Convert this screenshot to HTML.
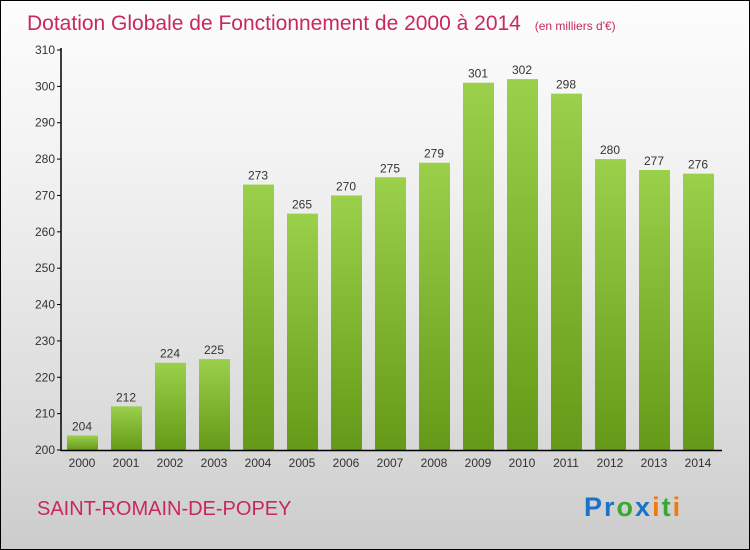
<!DOCTYPE html>
<html><head><meta charset="utf-8">
<style>
body{margin:0;}
#wrap{position:relative;width:748px;height:548px;border:1px solid #000;background:linear-gradient(#fdfdfd,#f2f2f2 30%,#dcdcdc 75%,#cccccc);font-family:"Liberation Sans",sans-serif;overflow:hidden;}
svg text{font-family:"Liberation Sans",sans-serif;}
</style></head><body>
<div id="wrap">
<svg id="chart" width="748" height="548">
<defs>
<linearGradient id="g" x1="0" y1="0" x2="0" y2="1"><stop offset="0" stop-color="#9bd04b"/><stop offset="1" stop-color="#649a17"/></linearGradient>
</defs>
<text x="26" y="29" font-size="21" fill="#c8285a">Dotation Globale de Fonctionnement de 2000 à 2014 <tspan font-size="12" dx="8">(en milliers d'€)</tspan></text>
<text x="36" y="514" font-size="20" fill="#c8285a">SAINT-ROMAIN-DE-POPEY</text>
<text x="583" y="515" font-size="27" font-weight="bold" letter-spacing="2"><tspan fill="#1a73c8">Pr</tspan><tspan fill="#3aa835">o</tspan><tspan fill="#1a73c8">x</tspan><tspan fill="#f07a10">i</tspan><tspan fill="#3aa835">t</tspan><tspan fill="#f07a10">i</tspan></text>
<g id="plot"></g>
</svg>
</div>
<script>
const categories=["2000","2001","2002","2003","2004","2005","2006","2007","2008","2009","2010","2011","2012","2013","2014"];
const values=[204,212,224,225,273,265,270,275,279,301,302,298,280,277,276];
const yTicks=[200,210,220,230,240,250,260,270,280,290,300,310];
const NS="http://www.w3.org/2000/svg";
const g=document.getElementById('plot');
const y0=449,y1=49,vmin=200,vmax=310;
function yS(v){return y0-(v-vmin)*(y0-y1)/(vmax-vmin);}
function xS(i){return 81+i*44;}
function mk(t,a){const e=document.createElementNS(NS,t);for(const k in a)e.setAttribute(k,a[k]);g.appendChild(e);return e;}
yTicks.forEach(t=>{
 const l=mk('line',{x1:56,x2:60,y1:yS(t),y2:yS(t),stroke:'#000'});
 
 
 const tx=mk('text',{x:54,y:yS(t)+4,'font-size':12,'text-anchor':'end',fill:'#333'});
 tx.textContent=t;
 
 
});
values.forEach((v,i)=>{
 const r=mk('rect',{x:xS(i)-15,y:yS(v),width:31,height:y0-yS(v),fill:'url(#g)'});
 
 
 const t=mk('text',{x:xS(i),y:yS(v)-5,'font-size':12,'text-anchor':'middle',fill:'#333'});
 t.textContent=v;
 
 
 const c=mk('text',{x:xS(i),y:466,'font-size':12,'text-anchor':'middle',fill:'#333'});
 c.textContent=categories[i];
 
 
});
const ya=mk('line',{x1:60,x2:60,y1:47,y2:450,stroke:'#000','stroke-width':1.5});


const xa=mk('line',{x1:60,x2:721,y1:449.5,y2:449.5,stroke:'#000','stroke-width':1.5});


</script>
</body></html>
